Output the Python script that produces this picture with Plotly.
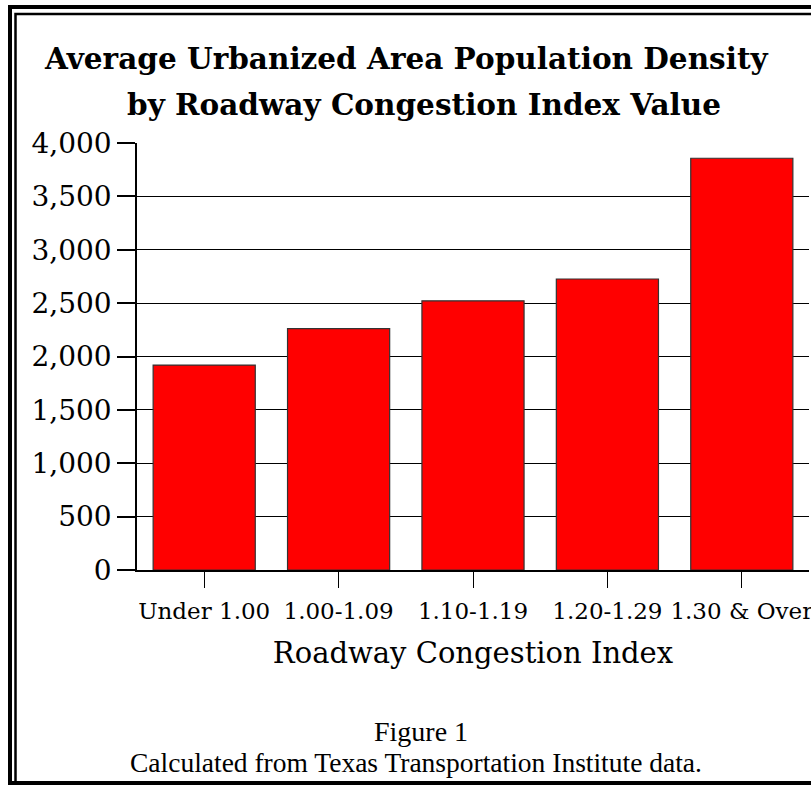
import plotly.graph_objects as go

categories = ["Under 1.00", "1.00-1.09", "1.10-1.19", "1.20-1.29", "1.30 & Over"]
density = [1920, 2262, 2522, 2726, 3857]
y_ticks = [0, 500, 1000, 1500, 2000, 2500, 3000, 3500, 4000]
y_ticklabels = ["0", "500", "1,000", "1,500", "2,000", "2,500", "3,000", "3,500", "4,000"]

W, H = 811, 785
L, R, T, B = 137, 2, 143, 215
PW, PH = W - L - R, H - T - B

def px(x):
    return (x - L) / PW

def py(y):
    return (H - B - y) / PH

fig = go.Figure()
fig.add_trace(go.Bar(
    x=categories, y=density,
    marker=dict(color="#FF0000", line=dict(color="#333333", width=1.2)),
))

serif = "DejaVu Serif"
fig.update_layout(
    width=W, height=H,
    margin=dict(l=L, r=R, t=T, b=B, autoexpand=False),
    paper_bgcolor="white", plot_bgcolor="white",
    bargap=0.24, showlegend=False,
    font=dict(family=serif, color="black"),
)
fig.update_xaxes(
    automargin=False,
    showline=True, linecolor="black", linewidth=1.5,
    ticks="outside", ticklen=16, tickcolor="black", tickwidth=1,
    ticklabelstandoff=4,
    tickfont=dict(family=serif, size=23, color="black"),
    showgrid=False,
    title=dict(text="Roadway Congestion Index", font=dict(family=serif, size=29, color="black"), standoff=19),
)
fig.update_yaxes(
    automargin=False,
    range=[0, 4000], tickvals=y_ticks, ticktext=y_ticklabels,
    showline=True, linecolor="black", linewidth=1.5,
    ticks="outside", ticklen=18, tickcolor="black", tickwidth=1.5,
    showgrid=True, gridcolor="black", gridwidth=1.3,
    tickfont=dict(family=serif, size=28, color="black"),
    zeroline=False,
)

# title lines
fig.add_annotation(text="<b>Average Urbanized Area Population Density</b>", x=px(406), y=py(58),
                   xref="paper", yref="paper", showarrow=False, xanchor="center", yanchor="middle",
                   font=dict(family=serif, size=29.5, color="black"))
fig.add_annotation(text="<b>by Roadway Congestion Index Value</b>", x=px(424), y=py(105),
                   xref="paper", yref="paper", showarrow=False, xanchor="center", yanchor="middle",
                   font=dict(family=serif, size=29.5, color="black"))
fig.add_annotation(text="Figure 1", x=px(421), y=py(731),
                   xref="paper", yref="paper", showarrow=False, xanchor="center", yanchor="middle",
                   font=dict(family="Liberation Serif", size=28, color="black"))
fig.add_annotation(text="Calculated from Texas Transportation Institute data.", x=px(416), y=py(762),
                   xref="paper", yref="paper", showarrow=False, xanchor="center", yanchor="middle",
                   font=dict(family="Liberation Serif", size=27.5, color="black"))

# double frame
fig.add_shape(type="rect", xref="paper", yref="paper",
              x0=px(10), x1=px(840), y0=py(7), y1=py(783),
              line=dict(color="black", width=4), fillcolor="rgba(0,0,0,0)", layer="above")
fig.add_shape(type="rect", xref="paper", yref="paper",
              x0=px(15.5), x1=px(840), y0=py(14), y1=py(783),
              line=dict(color="black", width=2.5), fillcolor="rgba(0,0,0,0)", layer="above")

fig.write_html("out.html")
